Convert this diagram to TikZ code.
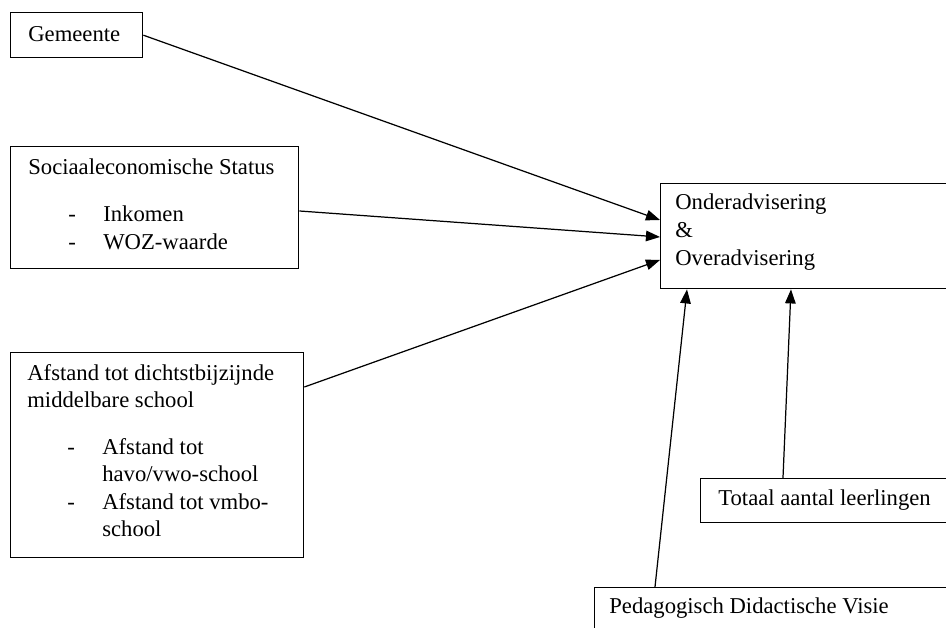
\documentclass[tikz,border=0pt]{standalone}
\usepackage{fontspec}
\setmainfont{Liberation Serif}
\usetikzlibrary{arrows.meta}

\newcommand{\streepje}[1]{\hspace*{0.8cm}\makebox[0.7cm][l]{-}#1}
\newcommand{\vervolg}[1]{\hspace*{1.5cm}#1}

\begin{document}
\begin{tikzpicture}[
  x=0.02cm, y=-0.02cm,
  box/.style={draw, line width=0.8pt, anchor=north west, inner sep=0pt},
  txt/.style={anchor=base west, inner sep=0pt, font=\fontsize{12.9}{15.7}\selectfont},
  arrow/.style={-{Triangle[length=8pt, width=6pt]}, line width=0.7pt}
]
  \useasboundingbox (0,0) rectangle (946,628);
  \clip (0,0) rectangle (946,628);

  \node[box, minimum width=2.64cm, minimum height=0.9cm] (gemeente) at (10,12) {};
  \node[box, minimum width=5.76cm, minimum height=2.44cm] (ses) at (10,146) {};
  \node[box, minimum width=5.86cm, minimum height=4.1cm] (afstand) at (10,352) {};
  \node[box, minimum width=6.8cm, minimum height=2.1cm] (advies) at (660,183) {};
  \node[box, minimum width=5.4cm, minimum height=0.88cm] (leerlingen) at (700,478) {};
  \node[box, minimum width=7.6cm, minimum height=1.6cm] (visie) at (594,587) {};

  \node[txt] (gemeente-tekst) at (28,42) {Gemeente};
  \node[txt] (ses-tekst) at (28,175) {\begin{tabular}[t]{@{}l@{}}
    Sociaaleconomische Status\\[0.38cm]
    \streepje{Inkomen}\\
    \streepje{WOZ-waarde}
  \end{tabular}};
  \node[txt] (afstand-tekst) at (27,380) {\begin{tabular}[t]{@{}l@{}}
    Afstand tot dichtstbijzijnde\\
    middelbare school\\[0.38cm]
    \streepje{Afstand tot}\\
    \vervolg{havo/vwo-school}\\
    \streepje{Afstand tot vmbo-}\\
    \vervolg{school}
  \end{tabular}};
  \node[txt] (advies-tekst) at (675,210) {\begin{tabular}[t]{@{}l@{}}
    Onderadvisering\\
    \&\\
    Overadvisering
  \end{tabular}};
  \node[txt] (leerlingen-tekst) at (718,505) {Totaal aantal leerlingen};
  \node[txt] (visie-tekst) at (609,613) {Pedagogisch Didactische Visie};

  \draw[arrow] (gemeente.east) -- ([yshift=-0.74cm]advies.north west);
  \draw[arrow] ([yshift=-1.3cm]ses.north east) -- ([yshift=-1.08cm]advies.north west);
  \draw[arrow] ([yshift=-0.7cm]afstand.north east) -- ([yshift=-1.54cm]advies.north west);
  \draw[arrow] ([xshift=1.22cm]visie.north west) -- ([xshift=0.54cm]advies.south west);
  \draw[arrow] ([xshift=1.66cm]leerlingen.north west) -- ([xshift=2.62cm]advies.south west);
\end{tikzpicture}
\end{document}
